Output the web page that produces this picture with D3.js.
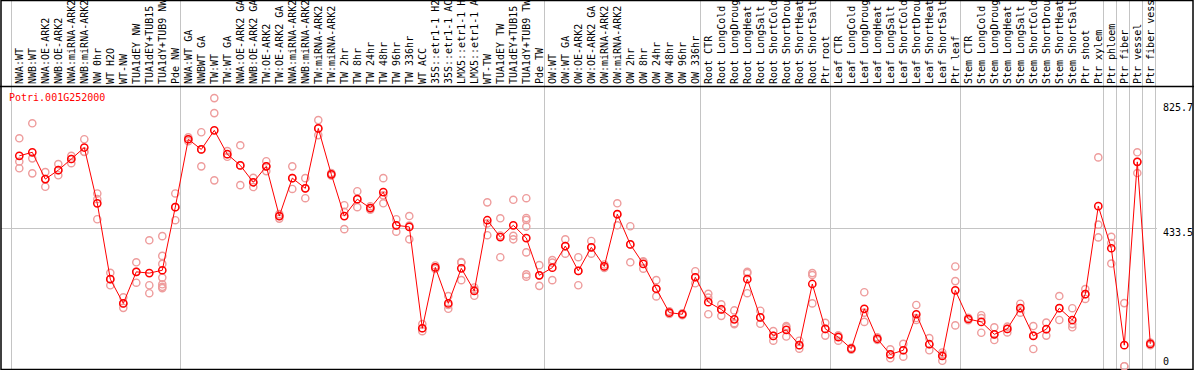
<!DOCTYPE html>
<html>
<head>
<meta charset="utf-8">
<script src="https://cdn.jsdelivr.net/npm/d3@7"></script>
<style>
  body { margin: 0; background: #fff; }
  svg { display: block; font-family: "DejaVu Sans Mono", monospace; font-size: 10px; }
</style>
</head>
<body>
<svg id="expr-chart" width="1194" height="370"></svg>
<script>
// Sample names, left to right
var categories = [
  'NWA:WT', 'NWB:WT', 'NWA:OE-ARK2', 'NWB:OE-ARK2', 'NWA:miRNA-ARK2', 'NWB:miRNA-ARK2',
  'NW 0hr', 'WT H2O', 'WT-NW', 'TUA1dEY NW', 'TUA1dEY+TUB15 NW', 'TUA1dY+TUB9 NW', 'Pde NW',
  'NWA:WT GA', 'NWBWT GA', 'TW:WT', 'TW:WT GA', 'NWA:OE-ARK2 GA', 'NWB:OE-ARK2 GA',
  'TW:OE-ARK2', 'TW:OE-ARK2 GA', 'NWA:miRNA-ARK2 GA', 'NWB:miRNA-ARK2 GA', 'TW:miRNA-ARK2',
  'TW:miRNA-ARK2 GA', 'TW 2hr', 'TW 8hr', 'TW 24hr', 'TW 48hr', 'TW 96hr', 'TW 336hr',
  'WT ACC', '35S::etr1-1 H2O', '35S::etr1-1 ACC', 'LMX5::etr1-1 H2O', 'LMX5::etr1-1 ACC',
  'WT-TW', 'TUA1dEY TW', 'TUA1dEY+TUB15 TW', 'TUA1dY+TUB9 TW', 'Pde TW',
  'OW:WT', 'OW:WT GA', 'OW:OE-ARK2', 'OW:OE-ARK2 GA', 'OW:miRNA-ARK2', 'OW:miRNA-ARK2 GA',
  'OW 2hr', 'OW 8hr', 'OW 24hr', 'OW 48hr', 'OW 96hr', 'OW 336hr',
  'Root CTR', 'Root LongCold', 'Root LongDrought', 'Root LongHeat', 'Root LongSalt',
  'Root ShortCold', 'Root ShortDrought', 'Root ShortHeat', 'Root ShortSalt', 'Ptr root',
  'Leaf CTR', 'Leaf LongCold', 'Leaf LongDrought', 'Leaf LongHeat', 'Leaf LongSalt',
  'Leaf ShortCold', 'Leaf ShortDrought', 'Leaf ShortHeat', 'Leaf ShortSalt', 'Ptr leaf',
  'Stem CTR', 'Stem LongCold', 'Stem LongDrought', 'Stem LongHeat', 'Stem LongSalt',
  'Stem ShortCold', 'Stem ShortDrought', 'Stem ShortHeat', 'Stem ShortSalt', 'Ptr shoot',
  'Ptr xylem', 'Ptr phloem', 'Ptr fiber', 'Ptr vessel', 'Ptr fiber vessel'
];

// First sample of each block (a grey rule is drawn before it)
var groupStarts = ['NWA:WT', 'NWA:WT GA', 'OW:WT', 'Root CTR', 'Leaf CTR', 'Stem CTR',
  'Ptr phloem', 'Ptr fiber', 'Ptr vessel', 'Ptr fiber vessel'];

// Mean expression per sample
var means = [
  660, 671, 587, 615, 650, 686, 511, 273, 197, 296, 292, 301, 499,
  712, 680, 740, 665, 630, 577, 627, 471, 590, 558, 746, 602,
  471, 524, 496, 546, 442, 437, 119, 310, 197, 307, 236, 458, 405, 442, 402, 285,
  309, 377, 299, 373, 313, 477, 382, 321, 243, 168, 163, 279,
  201, 178, 147, 273, 153, 95, 114, 66, 258, 117,
  91, 55, 180, 86, 37, 50, 163, 69, 32, 238,
  148, 139, 100, 117, 182, 95, 116, 182, 145, 226,
  502, 370, 66, 641, 70
];

// Individual replicates per sample
var reps = [
  [715, 642, 621], [762, 652, 605], [609, 587, 563], [634, 615, 599], [660, 650, 637],
  [712, 672, 673], [542, 524, 461], [293, 273, 254], [216, 197, 183], [326, 296, 262],
  [395, 254, 229], [408, 346, 321, 278, 257, 249, 245], [542, 499, 458],
  [706, 712, 718], [734, 680, 627], [841, 794, 583], [675, 665, 657], [693, 630, 568],
  [591, 577, 562], [643, 627, 612], [477, 471, 463], [627, 590, 556], [590, 558, 527],
  [772, 746, 725], [598, 602, 606],
  [505, 484, 430], [549, 524, 499], [491, 496, 502], [590, 511, 536], [461, 442, 422],
  [471, 398, 441], [132, 119, 110], [305, 310, 316], [220, 180, 192], [327, 270, 325],
  [221, 240, 247], [514, 411, 448], [464, 342, 410], [522, 409, 398],
  [527, 459, 438, 357, 288, 281, 465], [317, 285, 252],
  [333, 270, 325], [398, 377, 353], [342, 299, 254], [393, 373, 353], [308, 313, 319],
  [511, 476, 442], [439, 382, 326], [327, 306, 329], [270, 243, 219], [164, 168, 172],
  [160, 163, 166], [298, 279, 260],
  [227, 163, 215], [194, 179, 158], [175, 132, 135], [296, 292, 229], [174, 153, 133],
  [80, 95, 110], [126, 93, 122], [80, 66, 55], [292, 286, 197], [136, 117, 96],
  [96, 80, 96], [52, 55, 58], [232, 139, 168], [82, 86, 91], [53, 37, 25],
  [70, 50, 30], [192, 151, 145], [88, 69, 50], [17, 36, 43], [313, 267, 128],
  [144, 148, 152], [160, 105, 151], [122, 100, 82], [124, 117, 106], [196, 182, 168],
  [126, 96, 54], [137, 116, 96], [220, 182, 145], [182, 122, 132], [242, 226, 211],
  [655, 444, 404], [406, 386, 322], [198, 0, 0], [671, 641, 606], [66, 70, 74]
];

// Right-hand axis labels
var yTicks = [825.7, 433.5, 0];
var geneName = 'Potri.001G252000';

var width = 1194;
var height = 370;
var svg = d3.select('svg#expr-chart');

var xScale = d3.scaleBand().domain(categories).range([11, 1155]);
var yScale = d3.scaleLinear().domain([0, 825.7]).range([366.2, 103]);
var xPos = function(c) { return xScale(c) + 8.3; };

// Grey block rules
var rules = groupStarts.map(function(c) { return xScale(c); }).concat([1155]);
svg.append('g').selectAll('line')
  .data(rules)
  .enter().append('line')
  .attr('x1', function(d) { return d + 0.5; })
  .attr('x2', function(d) { return d + 0.5; })
  .attr('y1', 0).attr('y2', height)
  .attr('stroke', '#c4c4c4').attr('stroke-width', 1);

// Middle grid line
svg.append('line')
  .attr('x1', 1).attr('x2', 1157)
  .attr('y1', Math.round(yScale(433.5)) + 0.5).attr('y2', Math.round(yScale(433.5)) + 0.5)
  .attr('stroke', '#c4c4c4').attr('stroke-width', 1);

// Frame and header separator
svg.append('rect')
  .attr('x', 1).attr('y', 0.5).attr('width', width - 2).attr('height', height - 1)
  .attr('fill', 'none').attr('stroke', '#000').attr('stroke-width', 1.5);
svg.append('line')
  .attr('x1', 0).attr('x2', width).attr('y1', 86.5).attr('y2', 86.5)
  .attr('stroke', '#000').attr('stroke-width', 1.5);

// Rotated sample labels
svg.append('g').selectAll('text')
  .data(categories)
  .enter().append('text')
  .attr('transform', function(d) { return 'translate(' + (xPos(d) + 3.5) + ',84) rotate(-90)'; })
  .attr('fill', '#000')
  .text(function(d) { return d; });

// Replicates
var repData = [];
reps.forEach(function(list, i) {
  list.forEach(function(v) { repData.push({c: categories[i], v: v}); });
});
svg.append('g').selectAll('circle')
  .data(repData)
  .enter().append('circle')
  .attr('cx', function(d) { return xPos(d.c); })
  .attr('cy', function(d) { return yScale(d.v); })
  .attr('r', 3.6)
  .attr('fill', 'none').attr('stroke', '#ee9c9c').attr('stroke-width', 1.4);

// Mean line
var line = d3.line()
  .x(function(d, i) { return xPos(categories[i]); })
  .y(function(d) { return yScale(d); });
svg.append('path')
  .datum(means)
  .attr('d', line)
  .attr('fill', 'none').attr('stroke', '#ff0000').attr('stroke-width', 1);

svg.append('g').selectAll('circle')
  .data(means)
  .enter().append('circle')
  .attr('cx', function(d, i) { return xPos(categories[i]); })
  .attr('cy', function(d) { return yScale(d); })
  .attr('r', 3.6)
  .attr('fill', 'none').attr('stroke', '#ff0000').attr('stroke-width', 1.5);

// Gene title
svg.append('text')
  .attr('x', 9).attr('y', 101)
  .attr('fill', '#ff0000')
  .text(geneName);

// Value labels on the right
svg.append('g').selectAll('text')
  .data(yTicks)
  .enter().append('text')
  .attr('x', 1163)
  .attr('y', function(d) { return d === 0 ? yScale(d) - 1 : yScale(d) + 8; })
  .attr('fill', '#000')
  .text(function(d) { return d; });
</script>
</body>
</html>
